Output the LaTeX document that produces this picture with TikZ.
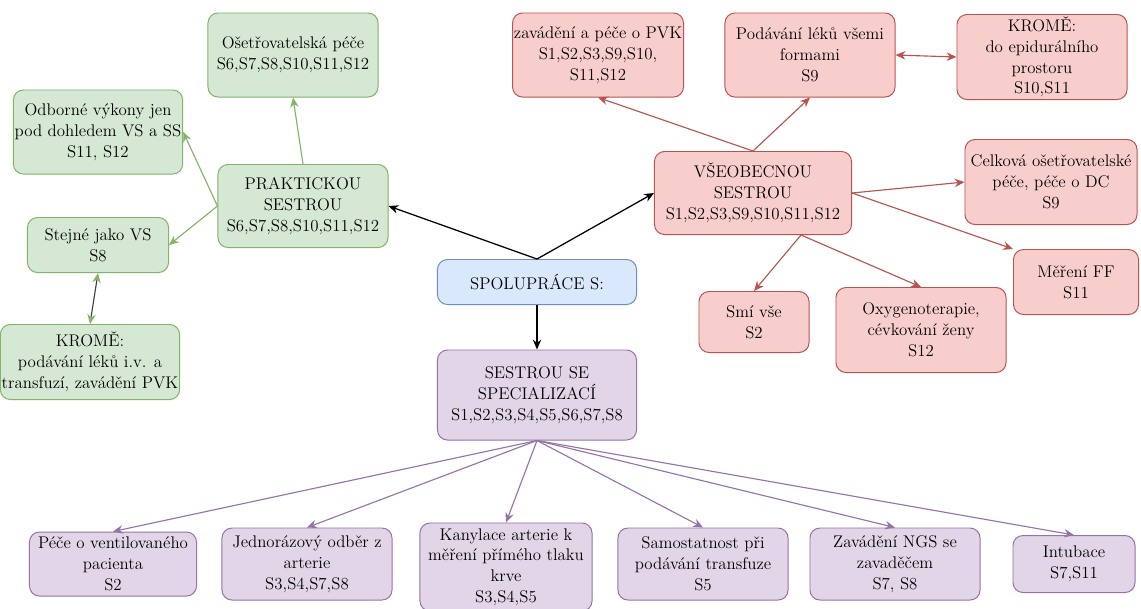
\documentclass[tikz,border=0pt]{standalone}
\usetikzlibrary{calc, arrows.meta, positioning}
\definecolor{greenfill}{HTML}{D5E8D4}
\definecolor{greenline}{HTML}{82B366}
\definecolor{redfill}{HTML}{F8CECC}
\definecolor{redline}{HTML}{B85450}
\definecolor{bluefill}{HTML}{DAE8FC}
\definecolor{blueline}{HTML}{6C8EBF}
\definecolor{purplefill}{HTML}{E1D5E7}
\definecolor{purpleline}{HTML}{9673A6}
\tikzset{
    every node/.style={font=\fontsize{12}{14.8}\selectfont},
    box node/.style={rounded corners=0.25cm, draw, align=center, inner sep=1pt, line width=0.7pt},
    green node/.style={box node, fill=greenfill, draw=greenline},
    red node/.style={box node, fill=redfill, draw=redline},
    blue node/.style={box node, fill=bluefill, draw=blueline},
    purple node/.style={box node, fill=purplefill, draw=purpleline},
    green edge/.style={draw=greenline, line width=0.8pt},
    red edge/.style={draw=redline, line width=0.8pt},
    purple edge/.style={draw=purpleline, line width=0.8pt},
    black edge/.style={draw=black, line width=0.9pt}
}

\begin{document}
\begin{tikzpicture}[x=0.025cm, y=-0.025cm,
  -{Stealth[length=7pt, width=6pt]}]
  \path[use as bounding box, fill=white] (0,0) rectangle (1141,608);

  % praktickou sestrou
  \node[green node, minimum width=4.25cm, minimum height=2.1cm] (ose) at (293,55)
    {Ošetřovatelská péče\\S6,S7,S8,S10,S11,S12};
  \node[green node, minimum width=4.225cm, minimum height=2.1cm] (odb) at (98,132)
    {Odborné výkony jen\\pod dohledem VS a SS\\S11, S12};
  \node[green node, minimum width=4.25cm, minimum height=2.075cm] (prak) at (303,206)
    {PRAKTICKOU\\SESTROU\\S6,S7,S8,S10,S11,S12};
  \node[green node, minimum width=3.525cm, minimum height=1.375cm] (stej) at (98,245)
    {Stejné jako VS\\S8};
  \node[green node, minimum width=3.825cm, minimum height=1.875cm] (kromG) at (90,362)
    {KROMĚ:\\podávání léků i.v. a\\transfuzí, zavádění PVK};

  \node[blue node, minimum width=4.975cm, minimum height=1.125cm] (spol) at (537,282)
    {SPOLUPRÁCE S:};

  % vseobecnou sestrou
  \node[red node, minimum width=4.25cm, minimum height=2.1cm] (pvk) at (598,55)
    {zavádění a péče o PVK\\S1,S2,S3,S9,S10,\\S11,S12};
  \node[red node, minimum width=4.25cm, minimum height=2.1cm] (pod) at (810,55)
    {Podávání léků všemi\\formami\\S9};
  \node[red node, minimum width=4.25cm, minimum height=2.125cm] (kromR) at (1042,57)
    {KROMĚ:\\do epidurálního\\prostoru\\S10,S11};
  \node[red node, minimum width=4.925cm, minimum height=2.075cm] (vse) at (753,193)
    {VŠEOBECNOU\\SESTROU\\S1,S2,S3,S9,S10,S11,S12};
  \node[red node, minimum width=4.3cm, minimum height=2.125cm] (cel) at (1051,182)
    {Celková ošetřovatelské\\péče, péče o DC\\S9};
  \node[red node, minimum width=3.125cm, minimum height=1.625cm] (mer) at (1076,282)
    {Měření FF\\S11};
  \node[red node, minimum width=2.75cm, minimum height=1.525cm] (smi) at (754,322)
    {Smí vše\\S2};
  \node[red node, minimum width=4.25cm, minimum height=2.125cm] (oxy) at (921,330)
    {Oxygenoterapie,\\cévkování ženy\\S12};

  % sestrou se specializaci
  \node[purple node, minimum width=4.975cm, minimum height=2.25cm] (spec) at (537,395)
    {SESTROU SE\\SPECIALIZACÍ\\S1,S2,S3,S4,S5,S6,S7,S8};
  \node[purple node, minimum width=4.175cm, minimum height=1.6cm] (vent) at (113,564)
    {Péče o ventilovaného\\pacienta\\S2};
  \node[purple node, minimum width=4.25cm, minimum height=1.8cm] (odber) at (307,564)
    {Jednorázový odběr z\\arterie\\S3,S4,S7,S8};
  \node[purple node, minimum width=4.3cm, minimum height=2.2cm] (kany) at (506,567)
    {Kanylace arterie k\\měření přímého tlaku\\krve\\S3,S4,S5};
  \node[purple node, minimum width=4.25cm, minimum height=1.8cm] (trans) at (703,564)
    {Samostatnost při\\podávání transfuze\\S5};
  \node[purple node, minimum width=4.25cm, minimum height=1.8cm] (ngs) at (895,564)
    {Zavádění NGS se\\zavaděčem\\S7, S8};
  \node[purple node, minimum width=3.05cm, minimum height=1.425cm] (intub) at (1074,564)
    {Intubace\\S7,S11};

  \draw[black edge] (spol.north) -- (prak.east);
  \draw[black edge] (spol.north) -- (vse.west);
  \draw[black edge] (spol.south) -- (spec.north);

  \draw[green edge] (prak.north) -- (ose.south);
  \draw[green edge] (prak.west) -- (odb.east);
  \draw[green edge] (prak.west) -- (stej.east);
  \draw[draw=black!75, line width=0.8pt,
    {Stealth[length=7pt, width=6pt, color=greenline]}-{Stealth[length=7pt, width=6pt, color=greenline]}]
    (kromG.north) -- (stej.south);

  \draw[red edge] (vse.north) -- (pvk.south);
  \draw[red edge] (vse.north) -- (pod.south);
  \draw[red edge, {Stealth[length=7pt, width=6pt]}-{Stealth[length=7pt, width=6pt]}] (pod.east) -- (kromR.west);
  \draw[red edge] (vse.east) -- (cel.west);
  \draw[red edge] (vse.east) -- (mer.north west);
  \draw[red edge] ($(vse.south)+(48,0)$) -- (smi.north);
  \draw[red edge] ($(vse.south)+(48,0)$) -- (oxy.north);

  \foreach \n in {vent, odber, kany, trans, ngs, intub}
    \draw[purple edge] (spec.south) -- (\n.north);
\end{tikzpicture}
\end{document}
